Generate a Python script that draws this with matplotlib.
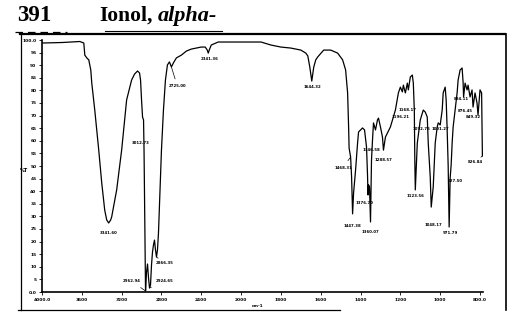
import numpy as np
import matplotlib
matplotlib.use('Agg')
import matplotlib.pyplot as plt
from matplotlib.ticker import NullLocator

# IR spectrum of alpha-ionol
wavenumber = [4000, 3800, 3700, 3620, 3580, 3570, 3550, 3530, 3510, 3500, 3470, 3430, 3400,
              3370, 3350, 3330, 3310, 3300, 3250, 3200, 3150, 3100, 3070, 3040, 3020, 3010,
              3000, 2990, 2980, 2975, 2970, 2965, 2960, 2950, 2940, 2930, 2920, 2910, 2900,
              2890, 2880, 2870, 2860, 2850, 2840, 2830, 2820, 2800, 2780, 2760, 2740, 2720,
              2700, 2680, 2650, 2600, 2550, 2500, 2450, 2400, 2360, 2340, 2330, 2320, 2300,
              2230, 2070, 1950, 1900, 1850, 1800, 1750, 1700, 1675, 1665, 1655, 1645, 1635,
              1625, 1615, 1585, 1550, 1515, 1490, 1475, 1465, 1460, 1457.5, 1450, 1445, 1440,
              1435, 1425, 1415, 1410, 1390, 1380, 1370, 1365, 1362.5, 1360, 1355, 1350, 1345,
              1340, 1335, 1325, 1315, 1310, 1300, 1290, 1285, 1275, 1250, 1225, 1210, 1200,
              1190, 1185, 1175, 1165, 1160, 1150, 1140, 1135, 1130, 1127.5, 1125, 1115, 1100,
              1090, 1085, 1075, 1065, 1060, 1050, 1045, 1035, 1025, 1015, 1010, 1000, 990,
              985, 975, 970, 965, 960, 955, 950, 945, 940, 935, 925, 915, 910, 900, 890, 885,
              882.5, 875, 865, 860, 850, 840, 835, 825, 815, 810, 800, 792, 789, 788]
transmittance = [98.8, 99.0, 99.2, 99.4, 98.8, 94.0, 92.9, 92.1, 88.1, 82.9, 72.2, 56.3, 43.3,
                 32.5, 28.6, 27.4, 28.6, 29.8, 40.5, 56.3, 76.2, 84.1, 86.5, 87.7, 86.9, 84.1,
                 76.2, 69.4, 68.3, 56.3, 36.5, 12.7, 0.4, 7.9, 11.1, 5.6, 1.6, 2.8, 10.7,
                 15.9, 18.7, 20.6, 16.7, 13.9, 16.7, 23.4, 34.5, 56.3, 72.2, 84.1, 90.1, 91.3,
                 89.3, 90.9, 92.9, 94.0, 95.6, 96.4, 96.8, 97.2, 97.2, 96.0, 94.8, 96.0, 98.0,
                 99.2, 99.2, 99.2, 99.2, 98.0, 97.2, 96.8, 96.0, 94.8, 93.7, 89.3, 83.7, 89.3,
                 92.1, 93.3, 96.0, 96.0, 94.8, 92.1, 88.1, 79.0, 65.5, 57.1, 53.6, 45.6, 31.0,
                 39.3, 48.4, 59.1, 63.5, 65.1, 64.3, 57.5, 46.4, 38.5, 42.5, 41.7, 27.8, 52.4,
                 60.3, 67.1, 64.3, 68.3, 69.0, 65.5, 61.5, 56.3, 61.5, 65.5, 72.2, 79.0, 81.3,
                 79.4, 82.1, 79.0, 82.9, 80.2, 85.3, 86.1, 82.9, 72.2, 52.4, 40.5, 59.1, 68.3,
                 71.0, 72.2, 71.4, 69.4, 59.1, 45.6, 33.7, 41.7, 59.1, 65.5, 67.1, 66.3, 72.2,
                 79.0, 81.3, 76.2, 64.3, 50.4, 25.8, 45.2, 50.4, 59.1, 65.5, 72.2, 79.0, 84.1,
                 88.1, 88.9, 83.3, 77.4, 82.9, 80.2, 82.1, 77.4, 80.2, 73.4, 79.0, 75.0, 70.2,
                 80.2, 79.0, 62.0, 54.0]

# peak labels: marked point, text
peak_wn = [3330, 2985, 2960, 2920, 2850, 2700, 2330, 1645, 1450, 1440, 1362.5, 1350, 1340,
           1285, 1165, 1190, 1125, 1090, 1000, 1045, 955, 950, 890, 875, 840, 788]
peak_t = [27.4, 68.3, 0.4, 1.6, 13.9, 89.3, 94.8, 83.7, 53.6, 31.0, 38.5, 27.8, 60.3,
          56.3, 82.9, 79.4, 40.5, 71.0, 66.3, 33.7, 25.8, 45.2, 88.9, 82.9, 80.2, 54.0]
peak_txt = ['3341.60', '3012.73', '2962.94', '2924.65', '2866.35', '2725.00', '2341.36',
            '1644.32', '1468.31', '1447.38', '1376.70', '1360.07', '1346.58', '1288.57',
            '1168.17', '1196.21', '1123.56', '1092.76', '1001.27', '1048.17', '971.79',
            '927.50', '894.11', '876.45', '849.32', '826.84']
# where each label sits, and whether a leader line is drawn
label_wn = [3330, 3005, 3100, 2770, 2770, 2640, 2320, 1640, 1488, 1440, 1378, 1350, 1345,
            1285, 1165, 1197, 1125, 1095, 1000, 1035, 950, 925, 895, 872, 832, 823]
label_t = [23.6, 59.2, 4.3, 4.3, 11.5, 81.6, 92.3, 81.2, 49.3, 26.0, 35.2, 24.0, 56.3,
           52.2, 72.3, 69.5, 38.0, 64.6, 64.6, 26.5, 23.4, 44.0, 76.6, 71.8, 69.3, 51.6]
leader = [False, False, True, True, True, True, False, False, True, False, False, False,
          False, False, False, False, False, False, False, False, False, False, False, False,
          False, True]

xticks = [4000, 3600, 3200, 2800, 2400, 2000, 1800, 1600, 1400, 1200, 1000, 800]
xtick_labels = ['4000.0', '3600', '3200', '2800', '2400', '2000', '1800', '1600', '1400',
                '1200', '1000', '800.0']
yticks = list(range(0, 101, 5))
ytick_labels = ['0.0'] + [str(v) for v in range(5, 100, 5)] + ['100.0']


# the chart paper doubles the scale below 2000 cm-1
def fwd(w):
    w = np.asarray(w, dtype=float)
    return np.where(w >= 2000, (w - 2000) / 400.0, (w - 2000) / 200.0)


def inv(u):
    u = np.asarray(u, dtype=float)
    return np.where(u >= 0, 2000 + 400 * u, 2000 + 200 * u)


W, H = 519, 312
fig = plt.figure(figsize=(W / 100, H / 100), dpi=100)

# page decoration in pixel coordinates
page = fig.add_axes([0, 0, 1, 1])
page.set_xlim(0, W)
page.set_ylim(H, 0)
page.axis('off')
page.text(17, 21, '391', fontsize=16.5, fontweight='bold', family='Liberation Serif')
page.text(99, 21, 'Ionol,', fontsize=15.5, fontweight='bold', family='Liberation Serif')
page.text(158, 21, 'alpha-', fontsize=16, fontweight='bold', style='italic',
          family='Liberation Serif')
page.plot([15, 67], [31.5, 31.5], color='black', lw=0.9, dashes=(6, 4))
page.plot([105, 222], [30.5, 30.5], color='black', lw=0.8)
page.plot([20, 505], [34, 34], color='black', lw=1.6)
page.plot([21, 21], [34, 310], color='black', lw=0.9)
page.plot([506, 506], [34, 310], color='black', lw=1.2)
page.plot([18, 340], [310, 310], color='black', lw=0.9)
page.text(24, 171, '%T', fontsize=3.5, fontweight='bold', ha='center', va='center')
page.text(258, 306, 'cm-1', fontsize=3, fontweight='bold', ha='center', va='center')

ax = fig.add_axes([42 / W, 1 - 292 / H, (483 - 42) / W, (292 - 40) / H])
ax.patch.set_alpha(0)
ax.set_xscale('function', functions=(fwd, inv))
ax.plot(wavenumber, transmittance, color='black', lw=0.9)
ax.set_xlim(4000, 785)
ax.set_ylim(0, 100)

ax.set_xticks(xticks)
ax.set_xticklabels(xtick_labels)
ax.xaxis.set_minor_locator(NullLocator())
ax.set_yticks(yticks)
ax.set_yticklabels(ytick_labels)
ax.tick_params(axis='both', length=2, width=0.6, labelsize=3.2, pad=2)
for lab in ax.get_xticklabels() + ax.get_yticklabels():
    lab.set_fontweight('bold')
for s in ['top', 'right']:
    ax.spines[s].set_visible(False)
ax.spines['left'].set_linewidth(1.2)
ax.spines['bottom'].set_linewidth(1.2)

for i in range(len(peak_wn)):
    if leader[i]:
        ax.annotate(peak_txt[i], xy=(peak_wn[i], peak_t[i]), xytext=(label_wn[i], label_t[i]),
                    fontsize=2.8, fontweight='bold', ha='center', va='center',
                    arrowprops=dict(arrowstyle='-', lw=0.5, color='black', shrinkA=2, shrinkB=0))
    else:
        ax.text(label_wn[i], label_t[i], peak_txt[i], fontsize=2.8, fontweight='bold',
                ha='center', va='center')

fig.savefig('out.png', dpi=100)
